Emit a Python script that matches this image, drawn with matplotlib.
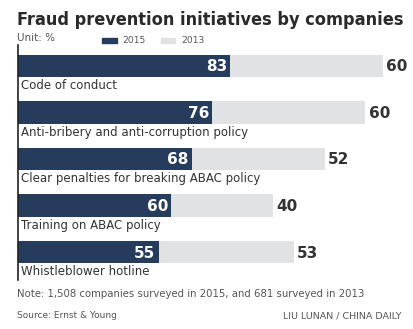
import numpy as np
import matplotlib.pyplot as plt

categories = ["Code of conduct", "Anti-bribery and anti-corruption policy",
              "Clear penalties for breaking ABAC policy", "Training on ABAC policy",
              "Whistleblower hotline"]
v2015 = [83, 76, 68, 60, 55]
v2013 = [60, 60, 52, 40, 53]

navy = "#253c5d"
grey = "#e1e2e4"
ink = "#333333"

fig = plt.figure(figsize=(4.14, 3.29), dpi=100)
fig.patch.set_facecolor("white")

# axes placed in pixel terms: left edge at x=18, top at y=45, bottom at y=280
ax = fig.add_axes([18/414, 1 - 280/329, 1 - 18/414, 235/329])
y = np.arange(len(categories))
ax.barh(y, v2015, height=0.48, color=navy, linewidth=0)
ax.barh(y, v2013, left=v2015, height=0.48, color=grey, linewidth=0)

for i in range(len(categories)):
    ax.text(v2015[i] - 1.2, y[i] + 0.02, str(v2015[i]), ha="right", va="center",
            color="white", fontsize=11, fontweight="bold")
    ax.text(v2015[i] + v2013[i] + 1.2, y[i] + 0.02, str(v2013[i]), ha="left", va="center",
            color=ink, fontsize=11, fontweight="bold")
    ax.text(1.2, y[i] + 0.42, categories[i], ha="left", va="center",
            color=ink, fontsize=8.5)

ax.set_xlim(0, 155)
ax.set_ylim(4.6, -0.45)
for s in ["top", "right", "bottom"]:
    ax.spines[s].set_visible(False)
ax.spines["left"].set_color("#222222")
ax.spines["left"].set_linewidth(1.2)
ax.set_xticks([])
ax.set_yticks([])

fig.text(17/414, 1 - 20/329, "Fraud prevention initiatives by companies", ha="left", va="center",
         fontsize=13, fontweight="heavy", fontstretch="condensed", color="#2a2a2a")
fig.text(17/414, 1 - 38/329, "Unit: %", ha="left", va="center", fontsize=7.5, color="#555555")
fig.patches.append(plt.Rectangle((102/414, 1 - 43/329), 15/414, 5/329, color=navy,
                                 transform=fig.transFigure, figure=fig))
fig.text(122/414, 1 - 40.5/329, "2015", ha="left", va="center", fontsize=6.6, color="#555555")
fig.patches.append(plt.Rectangle((161/414, 1 - 43/329), 14/414, 5/329, color=grey,
                                 transform=fig.transFigure, figure=fig))
fig.text(181/414, 1 - 40.5/329, "2013", ha="left", va="center", fontsize=6.6, color="#555555")

fig.text(17/414, 1 - 294/329, "Note: 1,508 companies surveyed in 2015, and 681 surveyed in 2013",
         ha="left", va="center", fontsize=7.3, color="#555555")
fig.text(17/414, 1 - 316/329, "Source: Ernst & Young", ha="left", va="center", fontsize=6.5, color="#555555")
fig.text(402/414, 1 - 316/329, "LIU LUNAN / CHINA DAILY", ha="right", va="center", fontsize=6.8, color="#555555")

fig.savefig("out.png", dpi=100)
